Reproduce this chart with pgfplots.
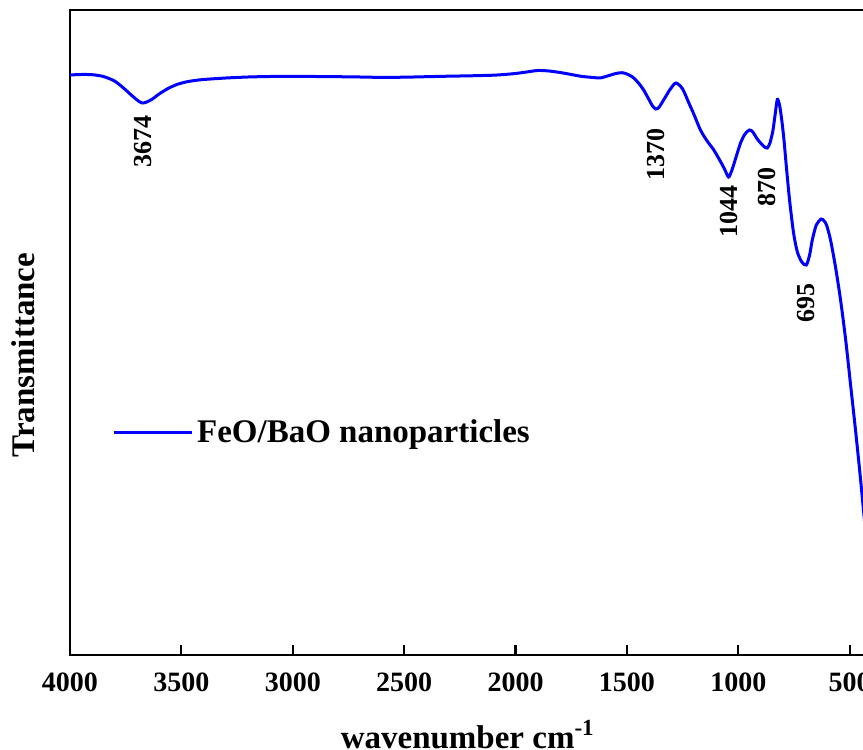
\documentclass[border=0pt]{standalone}
\usepackage{fontspec}
\setmainfont{Liberation Serif}
\usepackage{pgfplots}
\pgfplotsset{compat=1.18}

\pgfplotstableread{
wn    T
4000  580
3950  580.5
3900  580.3
3850  578.5
3800  574
3760  567
3720  559
3690  553.5
3674  552
3655  553
3630  556
3600  561
3560  566.5
3520  570.5
3480  573
3440  574.5
3400  575.5
3300  577
3200  578
3100  578.5
3000  578.5
2900  578.5
2800  578.3
2700  578
2600  577.6
2500  577.8
2400  578.3
2300  578.8
2200  579.2
2100  579.8
2050  580.5
2000  581.5
1950  583
1900  584.5
1850  584
1800  582.5
1750  580.5
1700  578.5
1650  577.5
1620  577
1580  579.5
1550  581.5
1522  582.3
1500  581
1475  578
1450  572.5
1425  565
1400  555
1385  549
1370  546
1355  548
1330  557
1305  566
1280  572
1250  566
1222  552
1200  541
1170  525
1140  514
1110  505
1075  491.5
1060  485
1044  478
1030  484
1010  498
990   512
970   521
950   525
935   523
915   516
900   512
885   508.5
870   507
858   512
845   524
835   540
825   555.5
815   550
805   535
795   515
785   490
770   455
752   422
735   403
715   393
695   390
680   400
668   415
650   430
628   436
615   434
604   430
586   415
563   387
541   355
518   315
496   270
473   223
451   175
429   123
}\spectrum

\begin{document}
\begin{tikzpicture}
\begin{axis}[
  at={(0,0)}, anchor=south west,
  scale only axis,
  width=401pt, height=322.5pt,
  x dir=reverse,
  xmin=400, xmax=4000,
  ymin=0, ymax=645,
  xtick={500,1000,...,4000},
  ytick=\empty,
  xtick pos=left,
  tick align=inside,
  major tick length=5pt,
  axis line style={line width=1.2pt},
  every tick/.style={line width=1.1pt, black},
  /pgf/number format/assume math mode=true,
  /pgf/number format/1000 sep={},
  xticklabel style={font=\bfseries\fontsize{14}{14}\selectfont, anchor=base, yshift=-18.5pt},
  every axis x label/.style={at={(axis description cs:0.496,0)}, anchor=base, yshift=-46.5pt,
    font=\bfseries\fontsize{16.5}{18}\selectfont},
  every axis y label/.style={at={([xshift=-17.5pt]axis description cs:0,0.465)}, rotate=90, anchor=base,
    font=\bfseries\fontsize{16.5}{18}\selectfont},
  xlabel={wavenumber cm\textsuperscript{-1}},
  ylabel={Transmittance},
  legend style={draw=none, fill=none, inner sep=0pt,
    at={(axis description cs:0.052,0.3447)}, anchor=west,
    font=\bfseries\fontsize{16.5}{18}\selectfont},
  legend image code/.code={\draw[#1] (0pt,0pt) -- (39pt,0pt);},
  clip=false,
]
\addplot[blue, line width=1.5pt, smooth, tension=0.45] table[x=wn, y=T] {\spectrum};
\addlegendentry{FeO/BaO nanoparticles}

% band positions
\begin{scope}[every node/.style={rotate=90, anchor=east, inner sep=0pt,
    font=\bfseries\fontsize{13}{13}\selectfont}]
  \node at (axis cs:3674,540) {3674};
  \node at (axis cs:1370,527) {1370};
  \node at (axis cs:1044,470) {1044};
  \node at (axis cs:870,488) {870};
  \node at (axis cs:695,372) {695};
\end{scope}
\end{axis}
\pgfresetboundingbox
\useasboundingbox (-35pt,-47.5pt) rectangle (396.5pt,327.5pt);
\end{tikzpicture}
\end{document}
